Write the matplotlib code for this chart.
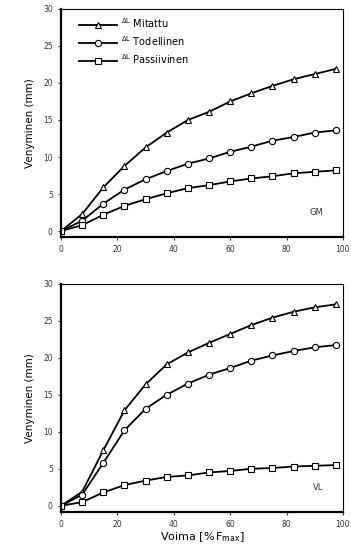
import numpy as np
import matplotlib.pyplot as plt

plt.rcParams['font.family'] = ['DejaVu Sans']

# voima (% Fmax)
voima = [0, 7.5, 15, 22.5, 30, 37.5, 45, 52.5, 60, 67.5, 75, 82.5, 90, 97.5]

# GM
gm_mitattu = [0, 2.3, 5.9, 8.8, 11.3, 13.3, 15.0, 16.1, 17.5, 18.6, 19.6, 20.5, 21.2, 21.9]
gm_todellinen = [0, 1.4, 3.7, 5.6, 7.0, 8.1, 9.1, 9.8, 10.7, 11.4, 12.2, 12.7, 13.3, 13.6]
gm_passiivinen = [0, 0.8, 2.2, 3.4, 4.3, 5.1, 5.8, 6.2, 6.7, 7.1, 7.4, 7.8, 8.0, 8.2]

# VL
vl_mitattu = [0, 1.9, 7.5, 12.9, 16.4, 19.1, 20.7, 22.0, 23.2, 24.4, 25.4, 26.2, 26.8, 27.2]
vl_todellinen = [0, 1.5, 5.8, 10.2, 13.1, 15.0, 16.5, 17.7, 18.6, 19.6, 20.3, 20.9, 21.4, 21.7]
vl_passiivinen = [0, 0.5, 1.8, 2.8, 3.4, 3.9, 4.1, 4.5, 4.7, 5.0, 5.1, 5.3, 5.4, 5.5]

labels = [r'$^{\Delta\mathrm{L}}$ Mitattu', r'$^{\Delta\mathrm{L}}$ Todellinen', r'$^{\Delta\mathrm{L}}$ Passiivinen']
markers = ['^', 'o', 's']

fig = plt.figure(figsize=(3.51, 5.55), dpi=100)
ax1 = fig.add_axes([0.174, 0.573, 0.803, 0.411])
ax2 = fig.add_axes([0.174, 0.078, 0.803, 0.411])


def piirra(ax, sarjat, nimi):
    for y, m, lab in zip(sarjat, markers, labels):
        ax.plot(voima, y, color='black', lw=1.3, marker=m, ms=4.5,
                mfc='white', mec='black', mew=0.8, label=lab)
    ax.set_xlim(0, 100)
    ax.set_ylim(-0.8, 30)
    ax.set_xticks([0, 20, 40, 60, 80, 100])
    ax.set_yticks([0, 5, 10, 15, 20, 25, 30])
    ax.tick_params(labelsize=5.5, length=2.5, width=0.8, colors='#333333')
    ax.spines['left'].set_linewidth(1.6)
    ax.spines['bottom'].set_linewidth(1.6)
    ax.spines['top'].set_linewidth(0.8)
    ax.spines['right'].set_linewidth(0.8)
    ax.set_ylabel('Venyminen (mm)', fontsize=7.5, labelpad=6)
    ax.text(93, 2.5, nimi, fontsize=6, ha='right', va='center', color='#333333')


piirra(ax1, [gm_mitattu, gm_todellinen, gm_passiivinen], 'GM')
piirra(ax2, [vl_mitattu, vl_todellinen, vl_passiivinen], 'VL')

ax1.legend(loc='upper left', bbox_to_anchor=(0.05, 0.985), frameon=False,
           fontsize=7, handlelength=3.9, borderaxespad=0, labelspacing=0.45,
           handletextpad=0.4)

ax2.set_xlabel(r'Voima $[\%\,\mathrm{F}_{\mathrm{max}}]$', fontsize=8, labelpad=1)

fig.savefig('out.png', dpi=100)
